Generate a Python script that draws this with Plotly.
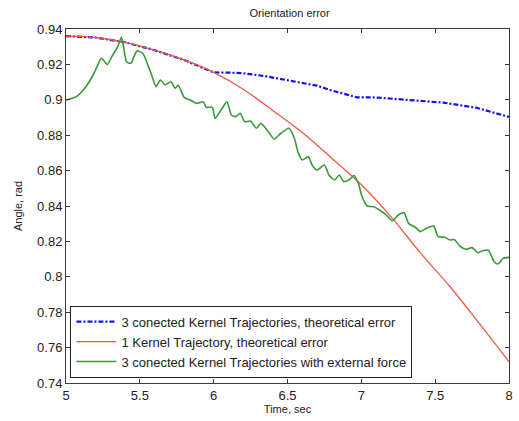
import plotly.graph_objects as go

# Series 1: 3 connected kernel trajectories, theoretical error (blue dash-dot)
t_blue = [5.0, 5.2, 5.4, 5.6, 5.8, 6.0, 6.12, 6.2, 6.345, 6.5, 6.57, 6.7, 6.79, 6.97,
          7.1, 7.33, 7.555, 7.78, 8.0]
v_blue = [0.936, 0.9352, 0.9325, 0.928, 0.9225, 0.9155, 0.9153, 0.915, 0.9134, 0.9112,
          0.910, 0.908, 0.9055, 0.9014, 0.9013, 0.900, 0.8984, 0.8955, 0.8903]

# Series 2: 1 kernel trajectory, theoretical error (red)
t_red = [5.0, 5.2, 5.4, 5.6, 5.8, 6.0, 6.2, 6.4, 6.6, 6.8, 7.0, 7.2, 7.4, 7.6, 7.8, 8.0]
v_red = [0.936, 0.9352, 0.9325, 0.928, 0.9225, 0.9155, 0.906, 0.894, 0.8815, 0.867,
         0.852, 0.834, 0.8135, 0.7945, 0.7735, 0.752]

# Series 3: 3 connected kernel trajectories with external force (green)
t_green = [5.0, 5.07, 5.135, 5.19, 5.24, 5.28, 5.31, 5.35, 5.375, 5.39, 5.41, 5.44, 5.46,
           5.48, 5.52, 5.55, 5.58, 5.61, 5.64, 5.67, 5.71, 5.74, 5.76, 5.80, 5.84, 5.885,
           5.93, 5.95, 5.99, 6.01, 6.05, 6.09, 6.12, 6.15, 6.18, 6.21, 6.25, 6.29, 6.32,
           6.37, 6.41, 6.455, 6.51, 6.55, 6.57, 6.60, 6.64, 6.67, 6.70, 6.75, 6.78, 6.82,
           6.85, 6.88, 6.92, 6.95, 6.98, 7.005, 7.04, 7.085, 7.13, 7.17, 7.21, 7.25, 7.29,
           7.32, 7.365, 7.40, 7.44, 7.49, 7.52, 7.565, 7.60, 7.63, 7.667, 7.71, 7.75, 7.79,
           7.82, 7.86, 7.90, 7.925, 7.96, 8.0]
v_green = [0.8999, 0.9018, 0.9074, 0.915, 0.9234, 0.920, 0.9244, 0.930, 0.9353, 0.930,
           0.9215, 0.9206, 0.9244, 0.9276, 0.9263, 0.9206, 0.914, 0.9074, 0.9112, 0.9084,
           0.9102, 0.9065, 0.9084, 0.9014, 0.8999, 0.898, 0.8989, 0.8958, 0.8958, 0.8895,
           0.8942, 0.8989, 0.8914, 0.8905, 0.8924, 0.8876, 0.888, 0.8839, 0.8867, 0.882,
           0.8777, 0.8811, 0.8839, 0.8773, 0.8707, 0.866, 0.8679, 0.8626, 0.8603, 0.8632,
           0.8575, 0.8547, 0.8575, 0.8537, 0.855, 0.8572, 0.8528, 0.8453, 0.840, 0.8396,
           0.8373, 0.8349, 0.8317, 0.8349, 0.8362, 0.8302, 0.828, 0.8255, 0.8274, 0.8287,
           0.8227, 0.8223, 0.8208, 0.821, 0.8174, 0.8155, 0.8165, 0.8136, 0.8147, 0.815,
           0.8085, 0.8072, 0.8104, 0.811]

x_ticks = [5, 5.5, 6, 6.5, 7, 7.5, 8]
x_ticktext = ["5", "5.5", "6", "6.5", "7", "7.5", "8"]
y_ticks = [0.74, 0.76, 0.78, 0.80, 0.82, 0.84, 0.86, 0.88, 0.90, 0.92, 0.94]
y_ticktext = ["0.74", "0.76", "0.78", "0.8", "0.82", "0.84", "0.86", "0.88", "0.9", "0.92", "0.94"]

names = ["3 conected Kernel Trajectories, theoretical error",
         "1 Kernel Trajectory, theoretical error",
         "3 conected Kernel Trajectories with external force"]

FONT = "Liberation Sans, Arial, Helvetica, sans-serif"

fig = go.Figure()
fig.add_trace(go.Scatter(x=t_blue, y=v_blue, mode="lines", name=names[0],
                         line=dict(color="#1414e6", width=2.2, dash="5px,2px,2px,2px")))
fig.add_trace(go.Scatter(x=t_red, y=v_red, mode="lines", name=names[1],
                         line=dict(color="#ea5a48", width=1.3, shape="spline")))
fig.add_trace(go.Scatter(x=t_green, y=v_green, mode="lines", name=names[2],
                         line=dict(color="#3a9a3a", width=1.6, shape="spline", smoothing=0.6)))

axis_common = dict(showline=True, linecolor="#3a3a3a", linewidth=1, mirror="ticks",
                   ticks="inside", ticklen=4, tickcolor="#3a3a3a", showgrid=False,
                   zeroline=False, tickfont=dict(family=FONT, size=13, color="#222"))

fig.update_xaxes(range=[5, 8], tickvals=x_ticks, ticktext=x_ticktext,
                 title=dict(text="Time, sec", font=dict(family=FONT, size=11, color="#222"), standoff=3),
                 **axis_common)
fig.update_yaxes(range=[0.74, 0.94], tickvals=y_ticks, ticktext=y_ticktext,
                 title=dict(text="Angle, rad", font=dict(family=FONT, size=11, color="#222"), standoff=12),
                 **axis_common)

fig.update_layout(
    width=519, height=421,
    margin=dict(l=66, r=6, t=29, b=38),
    paper_bgcolor="white", plot_bgcolor="white",
    title=dict(text="Orientation error", x=0.558, xanchor="center", y=1 - 13 / 421,
               yanchor="middle", font=dict(family=FONT, size=11, color="#222")),
    showlegend=True,
    legend=dict(x=0.01, y=0.015, xanchor="left", yanchor="bottom",
                bgcolor="white", bordercolor="#222", borderwidth=1,
                font=dict(family=FONT, size=13, color="#222"),
                tracegroupgap=0, itemwidth=40),
)

fig.write_html("out.html")
